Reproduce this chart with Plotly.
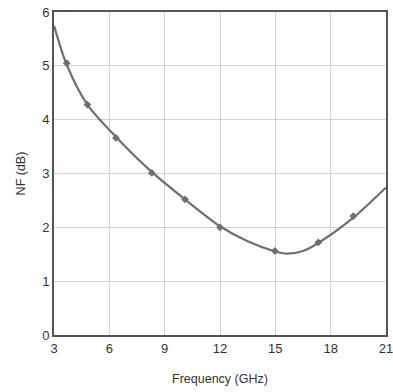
import plotly.graph_objects as go

# Fitted curve
curve_freq = [3.0, 3.69, 4.81, 6.36, 8.3, 10.1, 12.0, 13.5, 15.0, 15.6, 16.5, 17.33, 19.23, 21.0]
curve_nf = [5.75, 5.02, 4.28, 3.68, 3.03, 2.52, 2.02, 1.74, 1.55, 1.51, 1.56, 1.71, 2.18, 2.74]

# Measured points (markers)
marker_freq = [3.69, 4.81, 6.36, 8.3, 10.1, 12.0, 14.98, 17.33, 19.23]
marker_nf = [5.05, 4.28, 3.66, 3.01, 2.52, 2.0, 1.56, 1.72, 2.21]

x_ticks = [3, 6, 9, 12, 15, 18, 21]
y_ticks = [0, 1, 2, 3, 4, 5, 6]

fig = go.Figure()
fig.add_trace(go.Scatter(x=curve_freq, y=curve_nf, mode="lines",
                         line=dict(color="#6f6f6f", width=2.2, shape="spline", smoothing=0.8),
                         showlegend=False, hoverinfo="skip"))
fig.add_trace(go.Scatter(x=marker_freq, y=marker_nf, mode="markers",
                         marker=dict(symbol="diamond", size=6, color="#6f6f6f"),
                         showlegend=False))

fig.update_layout(
    width=393, height=392,
    margin=dict(l=54, r=7, t=12, b=57, autoexpand=False),
    paper_bgcolor="white", plot_bgcolor="white",
    font=dict(family="Liberation Sans, Arial, sans-serif", size=13, color="#333"),
    xaxis=dict(range=[3, 21], tickvals=x_ticks, ticktext=[str(v) for v in x_ticks],
               showgrid=True, gridcolor="#d2d2d2", gridwidth=1, automargin=False,
               ticklabeloverflow="allow",
               showline=True, linecolor="#555", linewidth=2, mirror=True,
               zeroline=False, ticks="", ticklen=0,
               title=dict(text="Frequency (GHz)", font=dict(size=12.5, color="#333"), standoff=20)),
    yaxis=dict(range=[0, 6], tickvals=y_ticks, ticktext=[str(v) for v in y_ticks],
               showgrid=True, gridcolor="#d2d2d2", gridwidth=1, automargin=False,
               ticklabeloverflow="allow",
               showline=True, linecolor="#555", linewidth=2, mirror=True,
               zeroline=False, ticks="", ticklen=0,
               title=dict(text="NF (dB)", font=dict(size=12.5, color="#333"), standoff=14)),
)

fig.write_html("out.html")
